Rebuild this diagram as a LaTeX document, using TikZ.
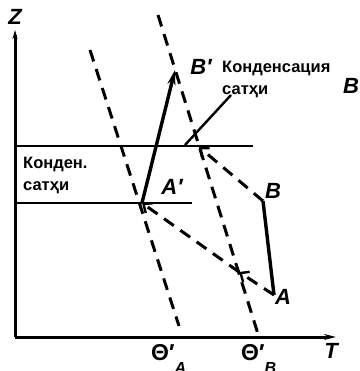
\documentclass[tikz,border=0pt]{standalone}
\usepackage{fontspec}
\setmainfont{Liberation Sans}
\usetikzlibrary{arrows.meta,positioning}

\tikzset{
  axis/.style={line width=3pt},
  level/.style={line width=2.4pt},
  adiab/.style={line width=3pt, dash pattern=on 12pt off 8pt},
  layer/.style={line width=3.4pt},
  lbl/.style={font=\fontsize{22}{24}\selectfont\bfseries\itshape, inner sep=0pt},
  note/.style={font=\fontsize{16.5}{22}\selectfont\bfseries, align=left, inner sep=0pt},
  barb/.style={-{Straight Barb[length=7pt,width=12pt,line width=2.4pt]}}
}

\begin{document}
\begin{tikzpicture}[x=1pt,y=-1pt,>=Stealth]
  \useasboundingbox (0,0) rectangle (359,371);
  % axes
  \coordinate (O)    at (15,337);
  \coordinate (ztop) at (15,30);
  \coordinate (Tend) at (336,337);
  \draw[axis,-{Stealth[length=9pt,width=5pt]}] (O) -- (ztop);
  \draw[axis,-{Stealth[length=12pt,width=6pt]}] (O) -- (Tend);
  \node (zlab) [lbl] at (15,17) {Z};
  \node (Tlab) [lbl] at (331,351) {T};
  % condensation levels
  \coordinate (up0) at (15,146);
  \coordinate (up1) at (253,146);
  \coordinate (lo0) at (15,203);
  \coordinate (lo1) at (192,203);
  \draw[level] (up0) -- (up1);
  \draw[level] (lo0) -- (lo1);
  % moist adiabats
  \coordinate (tA0) at (90,50);
  \coordinate (tA1) at (179,326);
  \coordinate (tB0) at (158,15);
  \coordinate (tB1) at (258,334);
  \draw[adiab] (tA0) -- (tA1);
  \draw[adiab] (tB0) -- (tB1);
  % layer points
  \coordinate (A)  at (274,295);
  \coordinate (B)  at (263,201);
  \coordinate (Ap) at (142,203);
  \coordinate (Bp) at (175,70);
  \coordinate (C)  at (199,147);
  \coordinate (M)  at (239,272);
  % dry adiabats
  \draw[adiab,barb] (A) -- (M);
  \draw[adiab,barb] (M) -- (Ap);
  \draw[adiab,barb] (B) -- (C);
  % layers
  \draw[layer] (B) -- (A);
  \draw[layer,-{Stealth[length=15pt,width=8pt]}] (Ap) -- (Bp);
  % labels
  \node (Alab)  [lbl] at (283,297) {A};
  \node (Blab)  [lbl] at (273,191) {B};
  \node (Aplab) [lbl] at (172,187) {A′};
  \node (Bplab) [lbl] at (201,67) {B′};
  \node (Bedge) [lbl, anchor=west] at (343,86) {B};
  \node (thA) [lbl, font=\fontsize{23}{24}\selectfont\bfseries, anchor=base west] at (151,360)
    {Θ′\raisebox{-13pt}{\fontsize{16}{16}\selectfont\bfseries\itshape A}};
  \node (thB) [lbl, font=\fontsize{23}{24}\selectfont\bfseries, anchor=base west] at (241,360)
    {Θ′\raisebox{-13pt}{\fontsize{16}{16}\selectfont\bfseries\itshape B}};
  % condensation notes
  \node (lowNote) [note, anchor=north west] at (23,157) {Конден.\\сатҳи};
  \node (upNote)  [note, anchor=north west] at (222,61) {Конденсация\\сатҳи};
  \coordinate (L0) at (231,95);
  \coordinate (L1) at (185,145);
  \draw[level] (L0) -- (L1);
\end{tikzpicture}
\end{document}
